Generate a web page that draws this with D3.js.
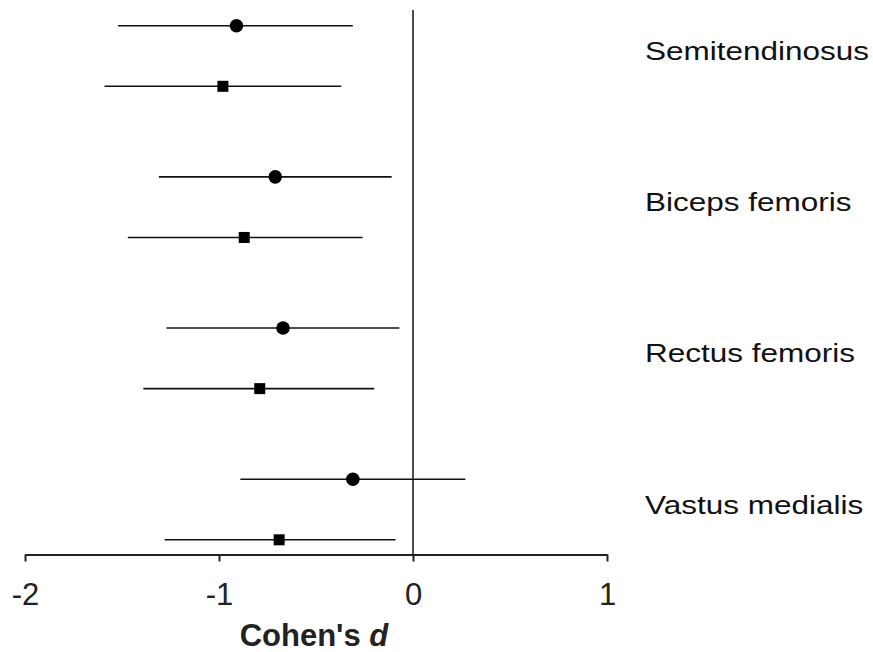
<!DOCTYPE html>
<html>
<head>
<meta charset="utf-8">
<script src="https://cdn.jsdelivr.net/npm/d3@7"></script>
<style>
  body { margin: 0; background: #fff; }
  text { font-family: "Liberation Sans", Arial, sans-serif; }
</style>
</head>
<body>
<div id="chart"></div>
<script>
const muscles = ["Semitendinosus", "Biceps femoris", "Rectus femoris", "Vastus medialis"];

// circle series (upper row of each muscle)
const circleD  = [-0.91, -0.71, -0.67, -0.31];
const circleLo = [-1.52, -1.31, -1.27, -0.89];
const circleHi = [-0.31, -0.11, -0.07, 0.27];

// square series (lower row of each muscle)
const squareD  = [-0.98, -0.87, -0.79, -0.69];
const squareLo = [-1.59, -1.47, -1.39, -1.28];
const squareHi = [-0.37, -0.26, -0.20, -0.09];

const xTicks = [-2, -1, 0, 1];

const width = 873, height = 652;
const margin = {top: 10, left: 25, right: 266, bottom: 97};

const svg = d3.select("#chart").append("svg")
    .attr("width", width)
    .attr("height", height);

const x = d3.scaleLinear()
    .domain([-2, 1])
    .range([margin.left, width - margin.right]);

// group centers
const y = d3.scalePoint()
    .domain(muscles)
    .range([56, 509.5]);
const offset = 30.3;

const rows = [];
muscles.forEach((m, i) => {
    rows.push({muscle: m, shape: "circle", d: circleD[i], lo: circleLo[i], hi: circleHi[i], y: y(m) - offset});
    rows.push({muscle: m, shape: "square", d: squareD[i], lo: squareLo[i], hi: squareHi[i], y: y(m) + offset});
});

const axisY = height - margin.bottom - 0.5;

// zero line
svg.append("line")
    .attr("x1", x(0)).attr("x2", x(0))
    .attr("y1", margin.top).attr("y2", axisY)
    .attr("stroke", "#222")
    .attr("stroke-width", 1.6);

// CI lines
svg.selectAll(".ci")
    .data(rows)
    .enter().append("line")
    .attr("class", "ci")
    .attr("x1", d => x(d.lo))
    .attr("x2", d => x(d.hi))
    .attr("y1", d => d.y)
    .attr("y2", d => d.y)
    .attr("stroke", "#111")
    .attr("stroke-width", 1.6);

svg.selectAll(".dot")
    .data(rows.filter(d => d.shape === "circle"))
    .enter().append("circle")
    .attr("class", "dot")
    .attr("cx", d => x(d.d))
    .attr("cy", d => d.y)
    .attr("r", 6.8)
    .attr("fill", "#000");

const sq = 11;
svg.selectAll(".sq")
    .data(rows.filter(d => d.shape === "square"))
    .enter().append("rect")
    .attr("class", "sq")
    .attr("x", d => x(d.d) - sq / 2)
    .attr("y", d => d.y - sq / 2)
    .attr("width", sq)
    .attr("height", sq)
    .attr("fill", "#000");

// x axis
const xAxis = d3.axisBottom(x)
    .tickValues(xTicks)
    .tickSize(7)
    .tickSizeOuter(0)
    .tickFormat(d3.format("d"));

const gx = svg.append("g")
    .attr("transform", `translate(0, ${axisY})`)
    .call(xAxis);
gx.select(".domain").attr("stroke", "#222").attr("stroke-width", 2);
gx.selectAll(".tick line").attr("stroke", "#222").attr("stroke-width", 2);
gx.selectAll(".tick text")
    .attr("fill", "#222")
    .attr("y", 50)
    .attr("dy", null)
    .style("font-size", "31px")
    .style("font-family", "'Liberation Sans', Arial, sans-serif")
    .text(d => d < 0 ? "-" + Math.abs(d) : d);

// muscle labels (drawn slightly wide, like the original)
svg.selectAll(".label")
    .data(muscles)
    .enter().append("text")
    .attr("class", "label")
    .attr("transform", d => `translate(645, ${y(d) + 4}) scale(1.26, 1)`)
    .style("font-size", "25px")
    .attr("fill", "#111")
    .text(d => d);

// x label
const xl = svg.append("text")
    .attr("x", (x(-2) + x(1)) / 2 - 2)
    .attr("y", 646)
    .attr("text-anchor", "middle")
    .style("font-size", "31px")
    .style("font-weight", "bold")
    .attr("fill", "#222");
xl.append("tspan").text("Cohen's ");
xl.append("tspan").style("font-style", "italic").text("d");
</script>
</body>
</html>
